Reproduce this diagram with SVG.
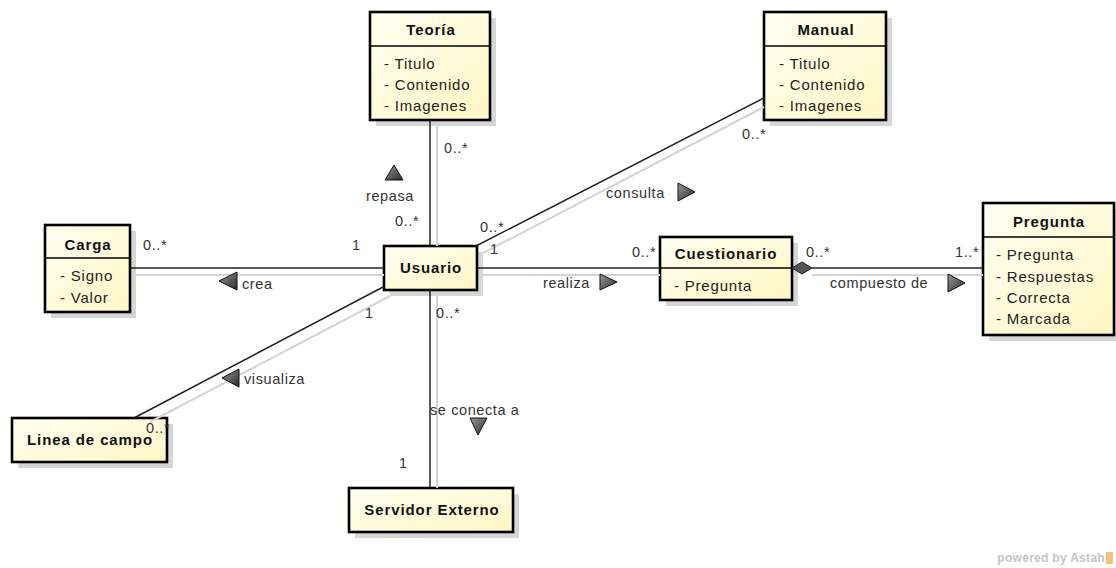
<svg xmlns="http://www.w3.org/2000/svg" width="1116" height="568" viewBox="0 0 1116 568">
  <defs>
    <linearGradient id="boxFill" x1="0" y1="0" x2="1" y2="1">
      <stop offset="0" stop-color="#FFFFF2"/>
      <stop offset="1" stop-color="#FFF6C4"/>
    </linearGradient>
    <linearGradient id="triFill" x1="0" y1="0" x2="1" y2="1">
      <stop offset="0" stop-color="#9a9a9a"/>
      <stop offset="1" stop-color="#2a2a2a"/>
    </linearGradient>
    <style>
      .shadow { fill: #d6d6d6; }
      .box { fill: url(#boxFill); stroke: #000; stroke-width: 2.6; }
      .div { stroke: #000; stroke-width: 1.3; }
      .title { font-family: "Liberation Sans", Arial, sans-serif; font-size: 15px; font-weight: bold; letter-spacing: 0.9px; fill: #111; text-anchor: middle; }
      .attr { font-family: "Liberation Sans", Arial, sans-serif; font-size: 15px; letter-spacing: 0.8px; fill: #222; }
      .lbl { font-family: "Liberation Sans", Arial, sans-serif; font-size: 14.5px; letter-spacing: 0.6px; fill: #333; }
      .edge { stroke: #222; stroke-width: 1.5; fill: none; }
      .edgeShadow { stroke: #d4d4d4; stroke-width: 2; fill: none; }
      .tri { fill: url(#triFill); stroke: #111; stroke-width: 1; }
    </style>
  </defs>

  <rect width="1116" height="568" fill="#ffffff"/>

  <!-- Teoría -->
  <g id="teoria">
    <rect class="shadow" x="376" y="18" width="120" height="108"/>
    <rect class="box" x="370" y="12" width="120" height="108"/>
    <line class="div" x1="370" y1="46" x2="490" y2="46"/>
    <text class="title" x="431" y="35">Teoría</text>
    <text class="attr" x="384" y="69">- Titulo</text>
    <text class="attr" x="384" y="90">- Contenido</text>
    <text class="attr" x="384" y="111">- Imagenes</text>
  </g>

  <!-- Manual -->
  <g id="manual">
    <rect class="shadow" x="770" y="18" width="122" height="108"/>
    <rect class="box" x="764" y="12" width="122" height="108"/>
    <line class="div" x1="764" y1="46" x2="886" y2="46"/>
    <text class="title" x="826" y="35">Manual</text>
    <text class="attr" x="779" y="69">- Titulo</text>
    <text class="attr" x="779" y="90">- Contenido</text>
    <text class="attr" x="779" y="111">- Imagenes</text>
  </g>

  <!-- Carga -->
  <g id="carga">
    <rect class="shadow" x="51" y="231" width="85" height="87"/>
    <rect class="box" x="45" y="225" width="85" height="87"/>
    <line class="div" x1="45" y1="258" x2="130" y2="258"/>
    <text class="title" x="88" y="250">Carga</text>
    <text class="attr" x="60" y="281">- Signo</text>
    <text class="attr" x="60" y="303">- Valor</text>
  </g>

  <!-- Usuario -->
  <g id="usuario">
    <rect class="shadow" x="390" y="252" width="93" height="44"/>
    <rect class="box" x="384" y="246" width="93" height="44"/>
    <text class="title" x="431" y="273">Usuario</text>
  </g>

  <!-- Cuestionario -->
  <g id="cuestionario">
    <rect class="shadow" x="666" y="243" width="132" height="63"/>
    <rect class="box" x="660" y="237" width="132" height="63"/>
    <line class="div" x1="660" y1="268" x2="792" y2="268"/>
    <text class="title" x="726" y="259">Cuestionario</text>
    <text class="attr" x="674" y="291">- Pregunta</text>
  </g>

  <!-- Pregunta -->
  <g id="pregunta">
    <rect class="shadow" x="989" y="209" width="131" height="132"/>
    <rect class="box" x="983" y="203" width="131" height="132"/>
    <line class="div" x1="983" y1="237" x2="1114" y2="237"/>
    <text class="title" x="1049" y="227">Pregunta</text>
    <text class="attr" x="996" y="260">- Pregunta</text>
    <text class="attr" x="996" y="282">- Respuestas</text>
    <text class="attr" x="996" y="303">- Correcta</text>
    <text class="attr" x="996" y="324">- Marcada</text>
  </g>

  <!-- Linea de campo -->
  <g id="linea-de-campo">
    <rect class="shadow" x="18" y="424" width="155" height="44"/>
    <rect class="box" x="12" y="418" width="155" height="44"/>
    <text class="title" x="90" y="445">Linea de campo</text>
  </g>

  <!-- Servidor Externo -->
  <g id="servidor-externo">
    <rect class="shadow" x="355" y="494" width="164" height="44"/>
    <rect class="box" x="349" y="488" width="164" height="44"/>
    <text class="title" x="432" y="515">Servidor Externo</text>
  </g>

  <!-- connectors -->
  <g id="connectors">
    <!-- soft duplicate lines beside each association -->
    <line class="edgeShadow" x1="437" y1="126" x2="437" y2="246"/>
    <line class="edgeShadow" x1="437" y1="296" x2="437" y2="488"/>
    <line class="edgeShadow" x1="136" y1="275" x2="384" y2="275"/>
    <line class="edgeShadow" x1="483" y1="275" x2="660" y2="275"/>
    <line class="edgeShadow" x1="812" y1="275" x2="983" y2="275"/>
    <line class="edgeShadow" x1="483" y1="253" x2="764" y2="107"/>
    <line class="edgeShadow" x1="390" y1="296" x2="150" y2="422"/>

    <!-- Teoría - Usuario -->
    <line class="edge" x1="430" y1="120" x2="430" y2="246"/>
    <!-- Usuario - Servidor Externo -->
    <line class="edge" x1="430" y1="290" x2="430" y2="488"/>
    <!-- Carga - Usuario -->
    <line class="edge" x1="130" y1="268" x2="384" y2="268"/>
    <!-- Usuario - Cuestionario -->
    <line class="edge" x1="477" y1="268" x2="660" y2="268"/>
    <!-- Cuestionario - Pregunta (aggregation) -->
    <line class="edge" x1="812" y1="268" x2="983" y2="268"/>
    <polygon points="792,268 802,262 812,268 802,274" fill="#555" stroke="#222" stroke-width="1"/>
    <!-- Usuario - Manual -->
    <line class="edge" x1="476" y1="246" x2="764" y2="98"/>
    <!-- Usuario - Linea de campo -->
    <line class="edge" x1="385" y1="286" x2="134" y2="418"/>
  </g>

  <!-- association labels, multiplicities and direction triangles -->
  <g id="labels">
    <text class="lbl" x="444" y="153">0..*</text>
    <polygon class="tri" points="394,165 403,180 385,180"/>
    <text class="lbl" x="366" y="201">repasa</text>
    <text class="lbl" x="395" y="226">0..*</text>

    <text class="lbl" x="742" y="139">0..*</text>
    <text class="lbl" x="606" y="198">consulta</text>
    <polygon class="tri" points="678,183 695,192 678,201"/>
    <text class="lbl" x="480" y="232">0..*</text>
    <text class="lbl" x="490" y="254">1</text>

    <text class="lbl" x="143" y="250">0..*</text>
    <text class="lbl" x="352" y="250">1</text>
    <polygon class="tri" points="219,281 237,272 237,290"/>
    <text class="lbl" x="242" y="289">crea</text>

    <text class="lbl" x="632" y="257">0..*</text>
    <text class="lbl" x="543" y="288">realiza</text>
    <polygon class="tri" points="600,274 617,282 600,290"/>

    <text class="lbl" x="806" y="257">0..*</text>
    <text class="lbl" x="955" y="257">1..*</text>
    <text class="lbl" x="830" y="288">compuesto de</text>
    <polygon class="tri" points="948,274 965,283 948,292"/>

    <text class="lbl" x="365" y="318">1</text>
    <text class="lbl" x="436" y="318">0..*</text>
    <polygon class="tri" points="222,378 239,369 239,387"/>
    <text class="lbl" x="244" y="384">visualiza</text>

    <text class="lbl" x="430" y="415">se conecta a</text>
    <polygon class="tri" points="470,418 487,418 478,435"/>
    <text class="lbl" x="399" y="468">1</text>
    <text class="lbl" x="146" y="433">0..*</text>
  </g>

  <!-- footer mark -->
  <g id="footer">
    <text x="1105" y="562" text-anchor="end" font-family="Liberation Sans, Arial, sans-serif" font-size="12" font-weight="bold" fill="#c4c4c4" letter-spacing="0.3">powered by Astah</text>
    <rect x="1106" y="552" width="7" height="12" fill="#f3c27a"/>
  </g>
</svg>
